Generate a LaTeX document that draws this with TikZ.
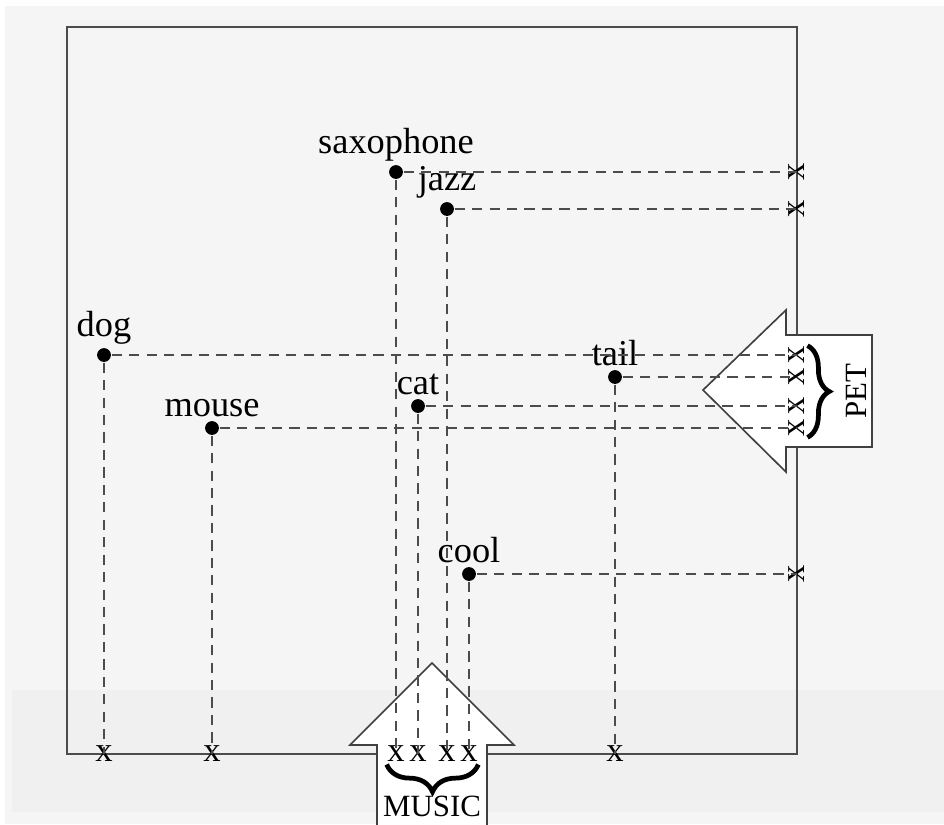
\documentclass[tikz,border=0pt]{standalone}
\usepackage{fontspec}
\setmainfont{Liberation Serif}
\usetikzlibrary{positioning,decorations.pathreplacing}

\tikzset{
  dot/.style={circle, fill, inner sep=0pt, minimum size=3.8pt},
  guide/.style={draw=black!70, line width=0.4pt, dash pattern=on 2.8pt off 2pt},
  cross/.style={inner sep=0pt, font=\fontsize{9.5}{10}\selectfont},
  bigarrow/.style={draw=black!75, fill=white, line width=0.45pt},
  bracket/.style={decorate, decoration={brace, amplitude=#1}, line width=1.3pt},
  tag/.style={font=\fontsize{8.5}{10}\selectfont},
}

\begin{document}
\begin{tikzpicture}[x=0.275pt, y=-0.275pt, label distance=-2.6pt]
    \useasboundingbox (0,0) rectangle (944,824);
    \fill[white] (0,0) rectangle (944,824);
    \fill[black!4] (5,6) rectangle (944,824);
    \fill[black!6] (12,690) rectangle (944,812);

    % the space
    \coordinate (nw) at (67,27);
    \coordinate (se) at (797,754);
    \draw[black!70, line width=0.55pt] (nw) rectangle (se);

    % the two projections
    \draw[bigarrow] (432,663) -- (514,745) -- (487,745) -- (487,850)
        -- (377,850) -- (377,745) -- (350,745) -- cycle;
    \draw[bigarrow] (703,390) -- (786,310) -- (786,335) -- (872,335)
        -- (872,447) -- (786,447) -- (786,472) -- cycle;

    % words
    \node[dot, label=above:saxophone] (sax) at (396,172) {};
    \node[dot, label=above:jazz] (jazz) at (447,209) {};
    \node[dot, label=above:dog] (dog) at (104,355) {};
    \node[dot, label=above:tail] (tail) at (615,377) {};
    \node[dot, label=above:cat] (cat) at (418,406) {};
    \node[dot, label=above:mouse] (mouse) at (212,428) {};
    \node[dot, label=above:cool] (cool) at (469,574) {};

    % where they land on the axes
    \node[cross] (sax-b) at (sax |- se) {x};
    \node[cross] (jazz-b) at (jazz |- se) {x};
    \node[cross] (dog-b) at (dog |- se) {x};
    \node[cross] (tail-b) at (tail |- se) {x};
    \node[cross] (cat-b) at (cat |- se) {x};
    \node[cross] (mouse-b) at (mouse |- se) {x};
    \node[cross] (cool-b) at (cool |- se) {x};

    \node[cross, rotate=90] (sax-r) at (sax -| se) {x};
    \node[cross, rotate=90] (jazz-r) at (jazz -| se) {x};
    \node[cross, rotate=90] (dog-r) at (dog -| se) {x};
    \node[cross, rotate=90] (tail-r) at (tail -| se) {x};
    \node[cross, rotate=90] (cat-r) at (cat -| se) {x};
    \node[cross, rotate=90] (mouse-r) at (mouse -| se) {x};
    \node[cross, rotate=90] (cool-r) at (cool -| se) {x};

    \path[guide]
        (sax) -- (sax-b.center)     (sax) -- (sax-r.center)
        (jazz) -- (jazz-b.center)   (jazz) -- (jazz-r.center)
        (dog) -- (dog-b.center)     (dog) -- (dog-r.center)
        (tail) -- (tail-b.center)   (tail) -- (tail-r.center)
        (cat) -- (cat-b.center)     (cat) -- (cat-r.center)
        (mouse) -- (mouse-b.center) (mouse) -- (mouse-r.center)
        (cool) -- (cool-b.center)   (cool) -- (cool-r.center);

    % groups
    \draw[bracket=7.5pt] ([yshift=-0.5pt]cool-b.south east) -- ([yshift=-0.5pt]sax-b.south west);
    \draw[bracket=6pt] ([xshift=0.5pt]dog-r.south east) -- ([xshift=0.5pt]mouse-r.south west);
    \node[tag] (music) at (432,806) {MUSIC};
    \node[tag, rotate=90] (pet) at (856,391) {PET};
\end{tikzpicture}
\end{document}
